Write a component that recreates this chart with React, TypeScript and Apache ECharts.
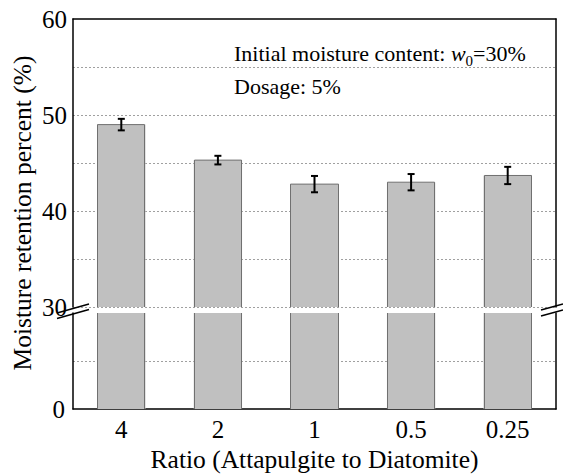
import React, { useEffect, useRef } from 'react';
import * as echarts from 'echarts';

const categories = ['4', '2', '1', '0.5', '0.25'];
const retention = [49.0, 45.3, 42.8, 43.0, 43.7];
const errorBars = [0.6, 0.45, 0.85, 0.85, 0.9];
const upperMin = 30;
const upperMax = 60;
const upperStep = 5;
const lowerMin = 0;
const lowerMax = 30;
const lowerStep = 15;
const upperLabels = [30, 40, 50, 60];
const lowerLabels = [0];
const noteMain = 'Initial moisture content: ';
const noteVar = 'w';
const noteSub = '0';
const noteValue = '=30%';
const noteDosage = 'Dosage: 5%';
const xName = 'Ratio (Attapulgite to Diatomite)';
const yName = 'Moisture retention percent (%)';

const FONT = 'Liberation Serif';

function measure(text: string, font: string): number {
  const ctx = document.createElement('canvas').getContext('2d');
  if (!ctx) return text.length * 10;
  ctx.font = font;
  return ctx.measureText(text).width;
}

function outlineRenderer(params: any, api: any) {
  const i = api.value(0);
  const v = api.value(1);
  const base = api.coord([i, 0]);
  const top = api.coord([i, v]);
  const half = (api.size([1, 0])[0] * 0.5) / 2;
  const xl = Math.round(base[0] - half) + 0.5;
  const xr = Math.round(base[0] + half) - 0.5;
  return {
    type: 'polyline',
    shape: { points: [[xl, base[1]], [xl, top[1]], [xr, top[1]], [xr, base[1]]] },
    style: { stroke: '#707070', lineWidth: 1, fill: null },
  };
}

export default function App() {
  const ref = useRef<HTMLDivElement>(null);

  useEffect(() => {
    if (!ref.current) return;
    const chart = echarts.init(ref.current, undefined, { renderer: 'svg' });

    const axisLine = { show: true, onZero: false, lineStyle: { color: '#000', width: 1.5 } };
    const grid = { color: '#a0a0a0', width: 1, type: [2, 2] as number[] };
    const tickStyle = { color: '#000', fontSize: 25, fontFamily: FONT };
    const nameStyle = { color: '#000', fontSize: 25.5, fontFamily: FONT };

    const noteSize = 22;
    const noteFont = `${noteSize}px ${FONT}`;
    const noteX = 234;
    const noteY = 53;
    const x1 = noteX + measure(noteMain, noteFont);
    const x2 = x1 + measure(noteVar, `italic ${noteSize}px ${FONT}`);
    const x3 = x2 + measure(noteSub, `15px ${FONT}`);

    const lineStyle = { stroke: '#000', lineWidth: 1.5 };
    const outlineData = categories.map((_, i) => [i, retention[i]]);

    chart.setOption({
      animation: false,
      grid: [
        { left: 73, right: 7, top: 19, height: 288 },
        { left: 73, right: 7, top: 313, height: 96 },
      ],
      xAxis: [
        {
          type: 'category', gridIndex: 0, data: categories, position: 'top',
          axisLine, axisTick: { show: false }, axisLabel: { show: false }, splitLine: { show: false },
        },
        {
          type: 'category', gridIndex: 1, data: categories, position: 'bottom',
          axisLine, axisTick: { show: false },
          axisLabel: { ...tickStyle, margin: 8 },
          splitLine: { show: false },
          name: xName, nameLocation: 'middle', nameGap: 37,
          nameTextStyle: nameStyle,
        },
      ],
      yAxis: [
        {
          type: 'value', gridIndex: 0, min: upperMin, max: upperMax, interval: upperStep, position: 'left',
          axisLine, axisTick: { show: false },
          axisLabel: {
            ...tickStyle, margin: 6,
            formatter: (v: number) => (upperLabels.includes(v) ? String(v) : ''),
          },
          splitLine: { show: true, showMaxLine: false, lineStyle: grid },
        },
        {
          type: 'value', gridIndex: 0, min: upperMin, max: upperMax, interval: upperStep, position: 'right',
          axisLine, axisTick: { show: false }, axisLabel: { show: false }, splitLine: { show: false },
        },
        {
          type: 'value', gridIndex: 1, min: lowerMin, max: lowerMax, interval: lowerStep, position: 'left',
          axisLine, axisTick: { show: false },
          axisLabel: {
            ...tickStyle, margin: 8,
            formatter: (v: number) => (lowerLabels.includes(v) ? String(v) : ''),
          },
          splitLine: { show: true, showMaxLine: false, showMinLine: false, lineStyle: grid },
        },
        {
          type: 'value', gridIndex: 1, min: lowerMin, max: lowerMax, interval: lowerStep, position: 'right',
          axisLine, axisTick: { show: false }, axisLabel: { show: false }, splitLine: { show: false },
        },
      ],
      series: [
        {
          type: 'bar', xAxisIndex: 0, yAxisIndex: 0, data: retention, barWidth: '50%', clip: true,
          itemStyle: { color: '#c0c0c0', borderWidth: 0 },
        },
        {
          type: 'bar', xAxisIndex: 1, yAxisIndex: 2, data: retention, barWidth: '50%', clip: true,
          itemStyle: { color: '#c0c0c0', borderWidth: 0 },
        },
        {
          type: 'custom', xAxisIndex: 0, yAxisIndex: 0, z: 5, clip: true,
          encode: { x: 0, y: 1 }, data: outlineData, renderItem: outlineRenderer,
        },
        {
          type: 'custom', xAxisIndex: 1, yAxisIndex: 2, z: 5, clip: true,
          encode: { x: 0, y: 1 }, data: outlineData, renderItem: outlineRenderer,
        },
        {
          type: 'custom', xAxisIndex: 0, yAxisIndex: 0, z: 10,
          encode: { x: 0, y: [1, 2] },
          data: categories.map((_, i) => [i, retention[i] - errorBars[i], retention[i] + errorBars[i]]),
          renderItem: (params: any, api: any) => {
            const lo = api.coord([api.value(0), api.value(1)]);
            const hi = api.coord([api.value(0), api.value(2)]);
            const w = 3.5;
            const st = { stroke: '#000', lineWidth: 2 };
            return {
              type: 'group',
              children: [
                { type: 'line', shape: { x1: lo[0], y1: lo[1], x2: hi[0], y2: hi[1] }, style: st },
                { type: 'line', shape: { x1: lo[0] - w, y1: lo[1], x2: lo[0] + w, y2: lo[1] }, style: st },
                { type: 'line', shape: { x1: hi[0] - w, y1: hi[1], x2: hi[0] + w, y2: hi[1] }, style: st },
              ],
            };
          },
        },
      ],
      graphic: [
        { type: 'text', x: noteX, y: noteY, style: { text: noteMain, font: noteFont, fill: '#000', textVerticalAlign: 'middle' } },
        { type: 'text', x: x1, y: noteY, style: { text: noteVar, font: `italic ${noteSize}px ${FONT}`, fill: '#000', textVerticalAlign: 'middle' } },
        { type: 'text', x: x2, y: noteY + 8, style: { text: noteSub, font: `15px ${FONT}`, fill: '#000', textVerticalAlign: 'middle' } },
        { type: 'text', x: x3, y: noteY, style: { text: noteValue, font: noteFont, fill: '#000', textVerticalAlign: 'middle' } },
        { type: 'text', x: noteX, y: noteY + 33, style: { text: noteDosage, font: noteFont, fill: '#000', textVerticalAlign: 'middle' } },
        {
          type: 'text', x: 22, y: 213, rotation: Math.PI / 2,
          style: { text: yName, font: `25.5px ${FONT}`, fill: '#000', textAlign: 'center', textVerticalAlign: 'middle' },
        },
        { type: 'line', shape: { x1: 57, y1: 313, x2: 89, y2: 304 }, style: lineStyle, z: 100 },
        { type: 'line', shape: { x1: 57, y1: 318.5, x2: 89, y2: 309.5 }, style: lineStyle, z: 100 },
        { type: 'line', shape: { x1: 541, y1: 310, x2: 563, y2: 304 }, style: lineStyle, z: 100 },
        { type: 'line', shape: { x1: 541, y1: 316, x2: 563, y2: 310 }, style: lineStyle, z: 100 },
      ],
    });

    return () => chart.dispose();
  }, []);

  return <div ref={ref} style={{ position: 'fixed', left: 0, top: 0, width: 563, height: 475, background: '#fff' }} />;
}
